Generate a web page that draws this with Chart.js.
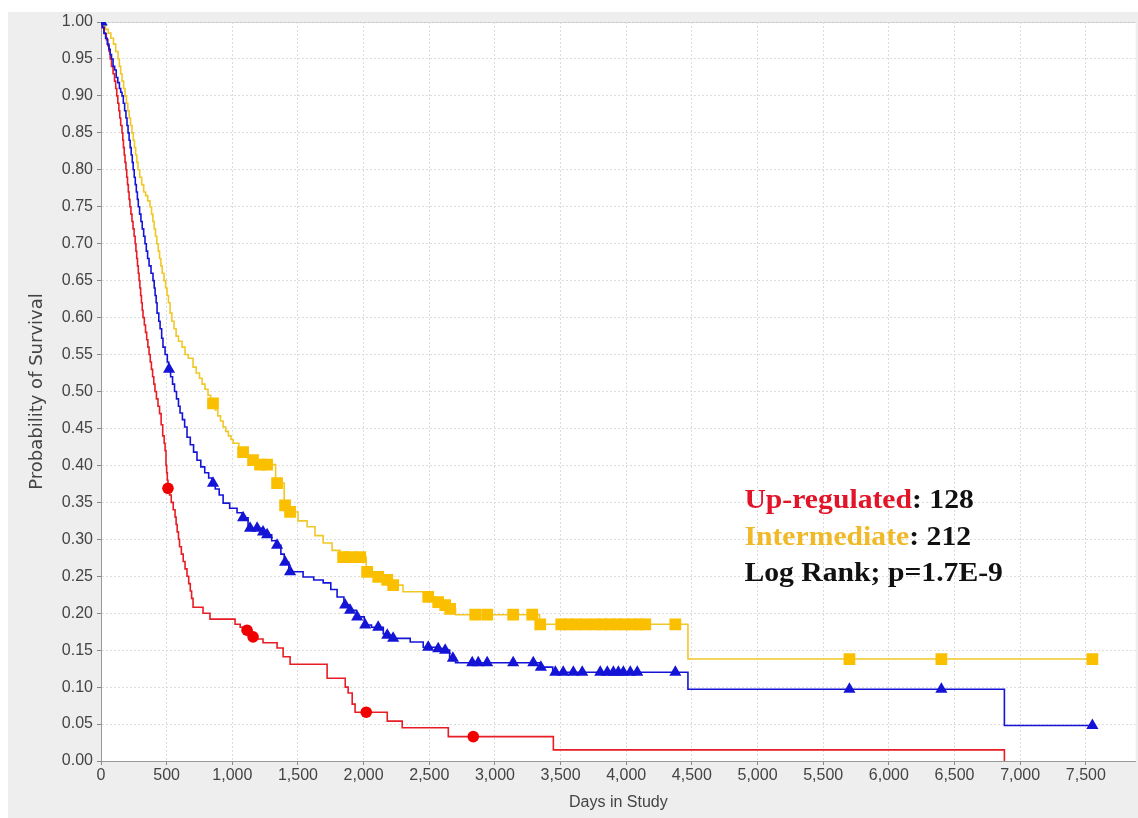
<!DOCTYPE html>
<html>
<head>
<meta charset="utf-8">
<script src="https://cdn.jsdelivr.net/npm/chart.js@4.4.0/dist/chart.umd.min.js"></script>
<style>
  html, body { margin: 0; padding: 0; background: #fff; overflow: hidden; }
  #wrap { position: absolute; left: 8px; top: 12px; width: 1136px; height: 806px; background: #eeeeee; }
</style>
</head>
<body>
<div id="wrap"><canvas id="km" width="1136" height="806"></canvas></div>
<script>
// tick values
const xTickValues = [0, 500, 1000, 1500, 2000, 2500, 3000, 3500, 4000, 4500, 5000, 5500, 6000, 6500, 7000, 7500];
const yTickValues = [0, 0.05, 0.10, 0.15, 0.20, 0.25, 0.30, 0.35, 0.40, 0.45, 0.50, 0.55, 0.60, 0.65, 0.70, 0.75, 0.80, 0.85, 0.90, 0.95, 1.00];

// Up-regulated (red) - step points: day of drop, survival after drop
const upDays = [0, 10, 25, 40, 52, 62, 70, 80, 92, 103, 112, 120, 128, 136, 143, 150, 160, 166, 171, 177, 183, 190, 196, 202, 208, 214, 220, 228, 236, 244, 252, 260, 266, 272, 278, 284, 290, 296, 302, 308, 314, 320, 330, 339, 348, 357, 366, 375, 384, 393, 402, 411, 422, 434, 446, 458, 470, 481, 488, 495, 500, 505, 510, 522, 535, 550, 564, 572, 580, 590, 598, 612, 626, 640, 655, 668, 680, 690, 701, 777, 830, 1021, 1060, 1105, 1150, 1170, 1234, 1341, 1387, 1440, 1722, 1860, 1882, 1913, 1935, 2180, 2294, 2645, 3445, 6880];
const upSurv = [1.0, 0.992, 0.984, 0.976, 0.968, 0.96, 0.95, 0.94, 0.93, 0.92, 0.91, 0.90, 0.89, 0.88, 0.87, 0.86, 0.85, 0.84, 0.83, 0.82, 0.81, 0.80, 0.79, 0.78, 0.77, 0.76, 0.75, 0.74, 0.73, 0.72, 0.71, 0.70, 0.69, 0.68, 0.67, 0.66, 0.65, 0.64, 0.63, 0.62, 0.61, 0.60, 0.59, 0.58, 0.57, 0.56, 0.55, 0.54, 0.53, 0.52, 0.51, 0.50, 0.49, 0.48, 0.47, 0.455, 0.44, 0.43, 0.42, 0.40, 0.39, 0.38, 0.369, 0.36, 0.35, 0.34, 0.33, 0.32, 0.31, 0.30, 0.29, 0.28, 0.27, 0.26, 0.25, 0.24, 0.23, 0.22, 0.208, 0.20, 0.192, 0.185, 0.181, 0.177, 0.168, 0.165, 0.160, 0.153, 0.141, 0.131, 0.112, 0.100, 0.092, 0.077, 0.066, 0.054, 0.045, 0.033, 0.015, 0.0];
const upCensor = [510, 1112, 1158, 2020, 2835];

// Intermediate (yellow)
const midDays = [0, 15, 35, 55, 75, 95, 112, 130, 140, 150, 160, 172, 183, 194, 204, 215, 225, 236, 246, 255, 264, 273, 282, 295, 310, 325, 340, 356, 373, 385, 395, 405, 415, 425, 436, 446, 456, 466, 480, 492, 503, 514, 526, 540, 556, 572, 590, 617, 640, 665, 701, 725, 750, 770, 792, 815, 835, 850, 870, 890, 910, 930, 950, 970, 990, 1006, 1050, 1120, 1150, 1200, 1330, 1395, 1430, 1500, 1570, 1630, 1692, 1760, 1821, 2020, 2100, 2170, 2215, 2300, 2480, 2560, 2610, 2650, 2700, 3340, 4470, 7550];
const midSurv = [1.0, 0.995, 0.99, 0.985, 0.978, 0.97, 0.96, 0.95, 0.94, 0.93, 0.92, 0.91, 0.90, 0.89, 0.88, 0.87, 0.86, 0.85, 0.84, 0.83, 0.82, 0.81, 0.80, 0.79, 0.78, 0.77, 0.765, 0.758, 0.75, 0.74, 0.73, 0.72, 0.71, 0.70, 0.69, 0.68, 0.67, 0.66, 0.65, 0.64, 0.63, 0.62, 0.606, 0.595, 0.585, 0.575, 0.568, 0.56, 0.55, 0.545, 0.533, 0.525, 0.518, 0.51, 0.503, 0.495, 0.487, 0.484, 0.475, 0.467, 0.46, 0.452, 0.446, 0.44, 0.435, 0.43, 0.418, 0.41, 0.407, 0.401, 0.376, 0.346, 0.337, 0.325, 0.317, 0.305, 0.295, 0.285, 0.276, 0.256, 0.249, 0.245, 0.238, 0.229, 0.222, 0.215, 0.211, 0.206, 0.198, 0.185, 0.138, 0.138];
const midCensor = [853, 1082, 1158, 1211, 1265, 1341, 1402, 1440, 1844, 1900, 1974, 2027, 2111, 2180, 2225, 2492, 2568, 2621, 2659, 2850, 2941, 3139, 3284, 3345, 3505, 3560, 3620, 3688, 3764, 3820, 3875, 3930, 3985, 4040, 4095, 4145, 4374, 5700, 6400, 7550];

// third group (blue)
const lowDays = [0, 10, 22, 35, 48, 60, 70, 80, 92, 104, 116, 128, 140, 150, 160, 170, 180, 190, 198, 206, 214, 222, 230, 238, 245, 253, 261, 269, 277, 284, 294, 304, 314, 325, 335, 345, 355, 366, 381, 396, 405, 412, 420, 427, 440, 450, 462, 472, 488, 505, 515, 530, 545, 560, 575, 590, 602, 620, 637, 655, 680, 705, 731, 760, 790, 820, 845, 870, 900, 930, 980, 1036, 1075, 1120, 1225, 1260, 1300, 1335, 1370, 1395, 1430, 1539, 1620, 1692, 1750, 1798, 1850, 1890, 1945, 2005, 2060, 2150, 2175, 2220, 2355, 2454, 2560, 2610, 2655, 2700, 3340, 3440, 4470, 6880, 7550];
const lowSurv = [1.0, 0.993, 0.985, 0.978, 0.97, 0.963, 0.956, 0.95, 0.94, 0.935, 0.925, 0.918, 0.91, 0.905, 0.90, 0.89, 0.88, 0.87, 0.86, 0.85, 0.84, 0.83, 0.82, 0.81, 0.80, 0.79, 0.78, 0.77, 0.76, 0.75, 0.74, 0.73, 0.72, 0.71, 0.70, 0.69, 0.68, 0.67, 0.66, 0.65, 0.64, 0.63, 0.62, 0.606, 0.595, 0.585, 0.572, 0.56, 0.55, 0.54, 0.53, 0.52, 0.51, 0.50, 0.49, 0.48, 0.471, 0.462, 0.452, 0.438, 0.428, 0.418, 0.407, 0.398, 0.39, 0.383, 0.376, 0.368, 0.36, 0.349, 0.342, 0.336, 0.329, 0.315, 0.31, 0.306, 0.298, 0.292, 0.28, 0.269, 0.256, 0.249, 0.245, 0.241, 0.232, 0.222, 0.211, 0.204, 0.195, 0.184, 0.181, 0.172, 0.170, 0.166, 0.161, 0.154, 0.152, 0.150, 0.139, 0.133, 0.127, 0.120, 0.097, 0.048, 0.048];
const lowCensor = [5, 518, 853, 1082, 1135, 1189, 1234, 1265, 1341, 1402, 1440, 1859, 1897, 1951, 2012, 2111, 2180, 2225, 2492, 2568, 2621, 2680, 2827, 2873, 2941, 3139, 3292, 3350, 3460, 3520, 3597, 3665, 3802, 3856, 3902, 3940, 3978, 4031, 4084, 4374, 5700, 6400, 7550];

const RED = 'rgb(232, 28, 36)';
const BLUE = 'rgb(20, 20, 215)';
const GOLD = 'rgb(250, 192, 0)';
const GOLD_LINE = 'rgb(240, 200, 40)';

function toPoints(days, surv) {
  return days.map((d, i) => ({ x: d, y: surv[i] }));
}
// censor marks sit on the curve at their day
function survAt(days, surv, t) {
  let s = surv[0];
  for (let i = 0; i < days.length; i++) {
    if (days[i] <= t) s = surv[i];
  }
  return s;
}
function censorPoints(days, surv, cens) {
  return cens.map(t => ({ x: t, y: survAt(days, surv, t) }));
}

const bgPlugin = {
  id: 'bg',
  beforeDraw(chart) {
    const { ctx, chartArea: a } = chart;
    ctx.save();
    ctx.fillStyle = '#ffffff';
    ctx.fillRect(a.left, a.top, a.right - a.left, a.bottom - a.top);
    ctx.strokeStyle = '#c8c8c8';
    ctx.lineWidth = 1;
    ctx.beginPath();
    ctx.moveTo(a.left, a.top + 0.5);
    ctx.lineTo(a.right, a.top + 0.5);
    ctx.stroke();
    ctx.restore();
  }
};

// annotation text
const noteLines = [
  [{ t: 'Up-regulated', c: 'rgb(225, 20, 40)' }, { t: ': 128', c: '#111' }],
  [{ t: 'Intermediate', c: 'rgb(240, 185, 40)' }, { t: ': 212', c: '#111' }],
  [{ t: 'Log Rank; p=1.7E-9', c: '#111' }]
];
const notePlugin = {
  id: 'note',
  afterDatasetsDraw(chart) {
    const { ctx, scales } = chart;
    const x0 = scales.x.getPixelForValue(4900);
    const y0 = scales.y.getPixelForValue(0.342);
    ctx.save();
    ctx.translate(x0, y0);
    ctx.scale(1.06, 1);
    ctx.font = 'bold 28px "Liberation Serif"';
    ctx.textBaseline = 'alphabetic';
    noteLines.forEach((parts, i) => {
      let x = 0;
      parts.forEach(p => {
        ctx.fillStyle = p.c;
        ctx.fillText(p.t, x, i * 36.5);
        x += ctx.measureText(p.t).width;
      });
    });
    ctx.restore();
  }
};

const lineStyle = { showLine: true, stepped: true, pointRadius: 0, borderWidth: 1.6, fill: false };

new Chart(document.getElementById('km'), {
  type: 'scatter',
  data: {
    datasets: [
      { label: 'Intermediate', data: toPoints(midDays, midSurv), borderColor: GOLD_LINE, order: 6, ...lineStyle },
      { label: 'Up-regulated', data: toPoints(upDays, upSurv), borderColor: RED, order: 5, ...lineStyle },
      { label: 'Down-regulated', data: toPoints(lowDays, lowSurv), borderColor: BLUE, order: 4, ...lineStyle },
      { label: 'Intermediate censored', data: censorPoints(midDays, midSurv, midCensor), pointStyle: 'rect', pointRadius: 8.3, backgroundColor: GOLD, borderColor: GOLD, borderWidth: 0, order: 3 },
      { label: 'Up-regulated censored', data: censorPoints(upDays, upSurv, upCensor), pointStyle: 'circle', pointRadius: 5.8, backgroundColor: 'rgb(240, 0, 0)', borderColor: 'rgb(240, 0, 0)', borderWidth: 0, order: 2 },
      { label: 'Down-regulated censored', data: censorPoints(lowDays, lowSurv, lowCensor), pointStyle: 'triangle', pointRadius: 7, backgroundColor: BLUE, borderColor: BLUE, borderWidth: 0, order: 1 }
    ]
  },
  options: {
    responsive: false,
    animation: false,
    layout: { padding: { top: 10, right: 0, left: 0, bottom: 0 } },
    plugins: { legend: { display: false }, tooltip: { enabled: false } },
    scales: {
      x: {
        type: 'linear',
        min: 0,
        max: 7880,
        afterFit: s => { s.height = 57; s.paddingLeft = 0; s.paddingRight = 0; },
        afterBuildTicks: s => { s.ticks = xTickValues.map(v => ({ value: v })); },
        ticks: {
          color: '#444',
          font: { family: '"Liberation Sans"', size: 16 },
          padding: 1,
          maxRotation: 0,
          autoSkip: false,
          callback: v => v.toLocaleString('en-US')
        },
        grid: { color: '#dcdcdc', tickColor: '#888', tickLength: 4, tickBorderDash: [] },
        border: { display: true, color: '#999', width: 1, dash: [2, 2] },
        title: {
          display: true,
          text: 'Days in Study',
          color: '#444',
          font: { family: '"Liberation Sans"', size: 16 },
          padding: { top: 0, bottom: 6 }
        }
      },
      y: {
        min: 0,
        max: 1,
        afterFit: s => { s.width = 93; s.paddingTop = 0; s.paddingBottom = 0; },
        afterBuildTicks: s => { s.ticks = yTickValues.map(v => ({ value: v })); },
        ticks: {
          color: '#444',
          font: { family: '"Liberation Sans"', size: 16 },
          padding: 4,
          autoSkip: false,
          callback: v => v.toFixed(2)
        },
        grid: { color: '#dcdcdc', tickColor: '#888', tickLength: 4, tickBorderDash: [] },
        border: { display: true, color: '#999', width: 1, dash: [2, 2] },
        title: {
          display: true,
          text: 'Probability of Survival',
          color: '#444',
          font: { family: '"DejaVu Sans"', size: 18 },
          padding: { top: 19, bottom: 0 }
        }
      }
    }
  },
  plugins: [bgPlugin, notePlugin]
});
</script>
</body>
</html>
